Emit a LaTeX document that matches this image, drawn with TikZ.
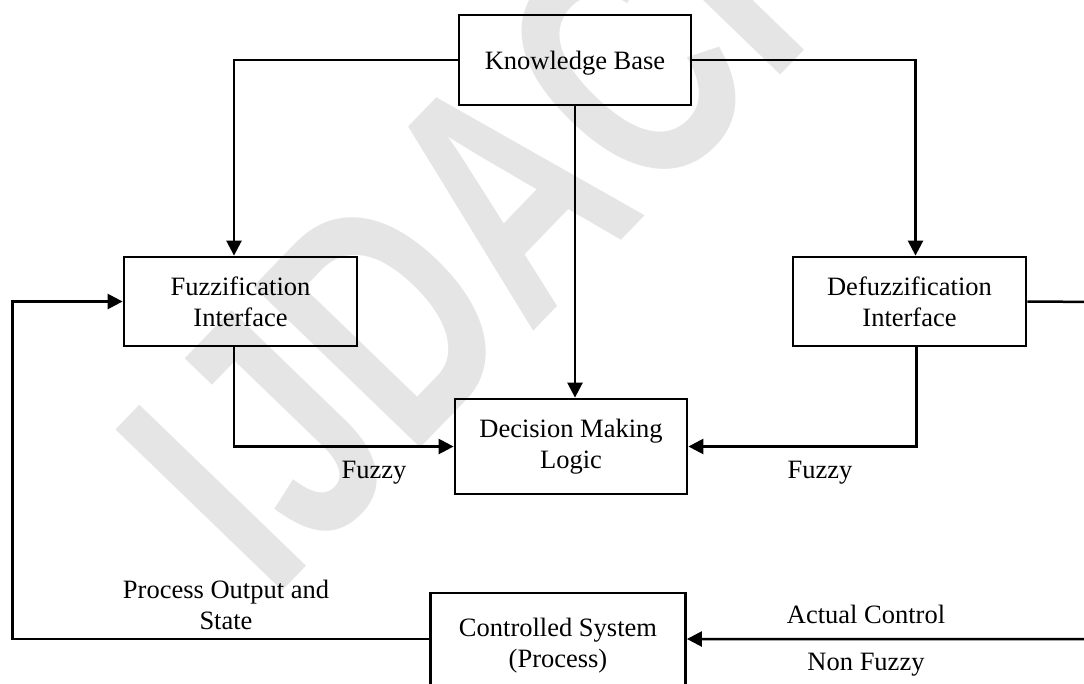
\documentclass[tikz,border=0pt]{standalone}
\usepackage{fontspec}
\setmainfont{Liberation Serif}
\newfontfamily\wmfont{Liberation Sans}
\usetikzlibrary{arrows.meta}
\newcommand\dgfont{\fontsize{26.5}{31}\selectfont}
\begin{document}
\begin{tikzpicture}[x=1pt,y=1pt,
  box/.style={draw, line width=2.8pt, inner sep=0pt, align=center, font=\dgfont},
  conn/.style={line width=2.5pt},
  arr/.style={conn, -{Triangle[length=15pt,width=15pt]}},
  lbl/.style={inner sep=0pt, align=center, font=\dgfont}]
\useasboundingbox (0,-683) rectangle (1084,0);
\clip (0,-683) rectangle (1084,0);
\fill[white] (0,-683) rectangle (1084,0);
% watermark
\begin{scope}[shift={(271,-603)}, rotate=46, xscale=0.71]
  \node[transform shape, anchor=base west, inner sep=0pt, text=black!10,
        font=\wmfont\bfseries\fontsize{337}{337}\selectfont] (wm) at (0,0) {IJDACI};
\end{scope}
% boxes
\node[box, minimum width=232pt, minimum height=90pt, text depth=0pt] (kb) at (575,-60) {Knowledge Base};
\node[box, minimum width=233pt, minimum height=89pt] (fz) at (240.5,-301.5) {Fuzzification\\Interface};
\node[box, minimum width=233pt, minimum height=89pt] (dz) at (909.5,-301.5) {Defuzzification\\Interface};
\node[box, minimum width=232pt, minimum height=95pt] (dm) at (571,-446.5) {Decision Making\\Logic};
\node[box, minimum width=255pt, minimum height=106pt] (cs) at (558,-646) {Controlled System\\(Process)};
% labels
\node[lbl, anchor=base] (fzl) at (374,-478.6) {Fuzzy};
\node[lbl, anchor=base] (dzl) at (820,-478) {Fuzzy};
\node[lbl, anchor=base] (pos) at (226,-629) {Process Output and\\State};
\node[lbl, anchor=base] (ac) at (866,-623) {Actual Control};
\node[lbl, anchor=base] (nf) at (866,-670) {Non Fuzzy};
% free-end coordinates
\coordinate (rt) at (1100,-302);
\coordinate (rb) at (1100,-639);
\coordinate (lb) at (12.5,-639);
% connectors
\draw[arr] (kb.west) -| ([xshift=-6.5pt]fz.north);
\draw[arr] (kb.east) -| ([xshift=6pt]dz.north);
\draw[arr] (kb.south) -- (kb.south |- dm.north);
\draw[arr] ([xshift=-6.5pt]fz.south) |- (dm.west);
\draw[arr] ([xshift=7pt]dz.south) |- (dm.east);
\draw[arr] (dz.east) -- (rt) -- (rb) -- (rb -| cs.east);
\draw[arr] (lb -| cs.west) -- (lb) |- (fz.west);
\end{tikzpicture}
\end{document}
